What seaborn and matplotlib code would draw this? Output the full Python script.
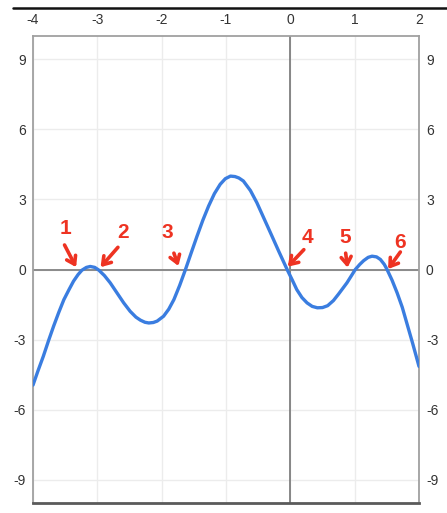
import matplotlib
matplotlib.use("Agg")
import matplotlib.pyplot as plt
import seaborn as sns
import pandas as pd
from matplotlib.lines import Line2D

# Curve samples
x_vals = [-4.00, -3.92, -3.84, -3.76, -3.68, -3.60, -3.52, -3.44, -3.37, -3.30, -3.24,
          -3.17, -3.11, -3.04, -2.98, -2.89, -2.80, -2.70, -2.59, -2.49, -2.40,
          -2.33, -2.26, -2.20, -2.13, -2.07, -1.97, -1.89, -1.81, -1.72, -1.63,
          -1.54, -1.45, -1.36, -1.27, -1.18, -1.09, -1.01, -0.93, -0.86, -0.80,
          -0.73, -0.62, -0.52, -0.42, -0.31, -0.18, -0.05, 0.03, 0.10, 0.18,
          0.26, 0.34, 0.42, 0.50, 0.58, 0.67, 0.75, 0.88, 1.01, 1.08, 1.14,
          1.21, 1.27, 1.34, 1.40, 1.46, 1.50, 1.58, 1.66, 1.74, 1.81, 1.90, 2.00]
y_vals = [-4.95, -4.32, -3.72, -3.06, -2.43, -1.84, -1.29, -0.86, -0.50, -0.22, -0.03,
          0.09, 0.13, 0.09, -0.02, -0.26, -0.57, -0.98, -1.43, -1.79, -2.04,
          -2.17, -2.26, -2.29, -2.27, -2.21, -2.00, -1.70, -1.29, -0.68, 0.00,
          0.72, 1.43, 2.11, 2.72, 3.25, 3.65, 3.89, 4.00, 3.98, 3.92,
          3.79, 3.38, 2.86, 2.25, 1.58, 0.78, 0.00, -0.45, -0.86, -1.20,
          -1.43, -1.58, -1.64, -1.63, -1.55, -1.33, -1.05, -0.57, 0.00, 0.22, 0.38,
          0.52, 0.57, 0.54, 0.43, 0.22, 0.02, -0.45, -1.00, -1.62, -2.29, -3.15, -4.15]

x_ticks = [-4, -3, -2, -1, 0, 1, 2]
y_ticks = [-9, -6, -3, 0, 3, 6, 9]

# Marked points: label, label position, arrow tail, arrow head
mark_labels = ["1", "2", "3", "4", "5", "6"]
mark_text_xy = [(-3.49, 1.75), (-2.60, 1.60), (-1.91, 1.60), (0.27, 1.37), (0.86, 1.37), (1.71, 1.15)]
mark_tail_xy = [(-3.51, 1.05), (-2.68, 0.95), (-1.81, 0.70), (0.21, 0.85), (0.86, 0.70), (1.71, 0.75)]
mark_head_xy = [(-3.33, 0.10), (-2.95, 0.10), (-1.74, 0.15), (-0.04, 0.12), (0.89, 0.08), (1.52, 0.02)]

sns.set_theme(style="white")
plt.rcParams["font.family"] = ["Liberation Sans", "DejaVu Sans"]
plt.rcParams["axes.unicode_minus"] = False

fig = plt.figure(figsize=(4.47, 5.13), dpi=100)
ax = fig.add_axes([33 / 447, 1 - 503 / 513, 386 / 447, 467 / 513])

df = pd.DataFrame({"x": x_vals, "y": y_vals})

ax.set_xlim(-4, 2)
ax.set_ylim(-10, 10)

# light grid
for xv in x_ticks:
    ax.axvline(xv, color="#ececec", lw=1.0, zorder=0)
for yv in y_ticks:
    ax.axhline(yv, color="#ececec", lw=1.0, zorder=0)

# coordinate axes
ax.axvline(0, color="#6a6a6a", lw=1.1, zorder=1)
ax.axhline(0, color="#8a8a8a", lw=1.4, zorder=1)

sns.lineplot(data=df, x="x", y="y", ax=ax, color="#3a7de0", lw=2.4,
             sort=False, estimator=None, zorder=3)
ax.lines[-1].set_solid_joinstyle("round")

ax.set_xlabel("")
ax.set_ylabel("")
ax.set_xticks(x_ticks)
ax.set_yticks(y_ticks)
ax.xaxis.tick_top()
ax.tick_params(axis="x", top=True, bottom=False, labeltop=True, labelbottom=False,
               length=0, pad=6.5, labelsize=10, labelcolor="#333333")
ax.tick_params(axis="y", left=True, right=True, labelleft=True, labelright=True,
               length=0, pad=5, labelsize=10, labelcolor="#333333")

for side in ["left", "right", "top"]:
    ax.spines[side].set_color("#a0a0a0")
    ax.spines[side].set_linewidth(1.3)
ax.spines["bottom"].set_color("#5a5a5a")
ax.spines["bottom"].set_linewidth(2.0)

# red hand-marked annotations
red = "#ee3322"
for lab, txy, tail, head in zip(mark_labels, mark_text_xy, mark_tail_xy, mark_head_xy):
    ax.text(txy[0], txy[1], lab, color=red, fontsize=15, ha="center", va="center",
            fontweight="bold", zorder=5)
    ax.annotate("", xy=head, xytext=tail,
                arrowprops=dict(arrowstyle="->,head_length=0.45,head_width=0.3",
                                color=red, lw=2.6, shrinkA=0, shrinkB=0),
                zorder=5)

# heavy rule across the top of the figure
fig.add_artist(Line2D([13 / 447, 1.0], [1 - 8 / 513, 1 - 8 / 513],
                      color="#111111", lw=1.8, transform=fig.transFigure))

fig.savefig("out.png", dpi=100)
